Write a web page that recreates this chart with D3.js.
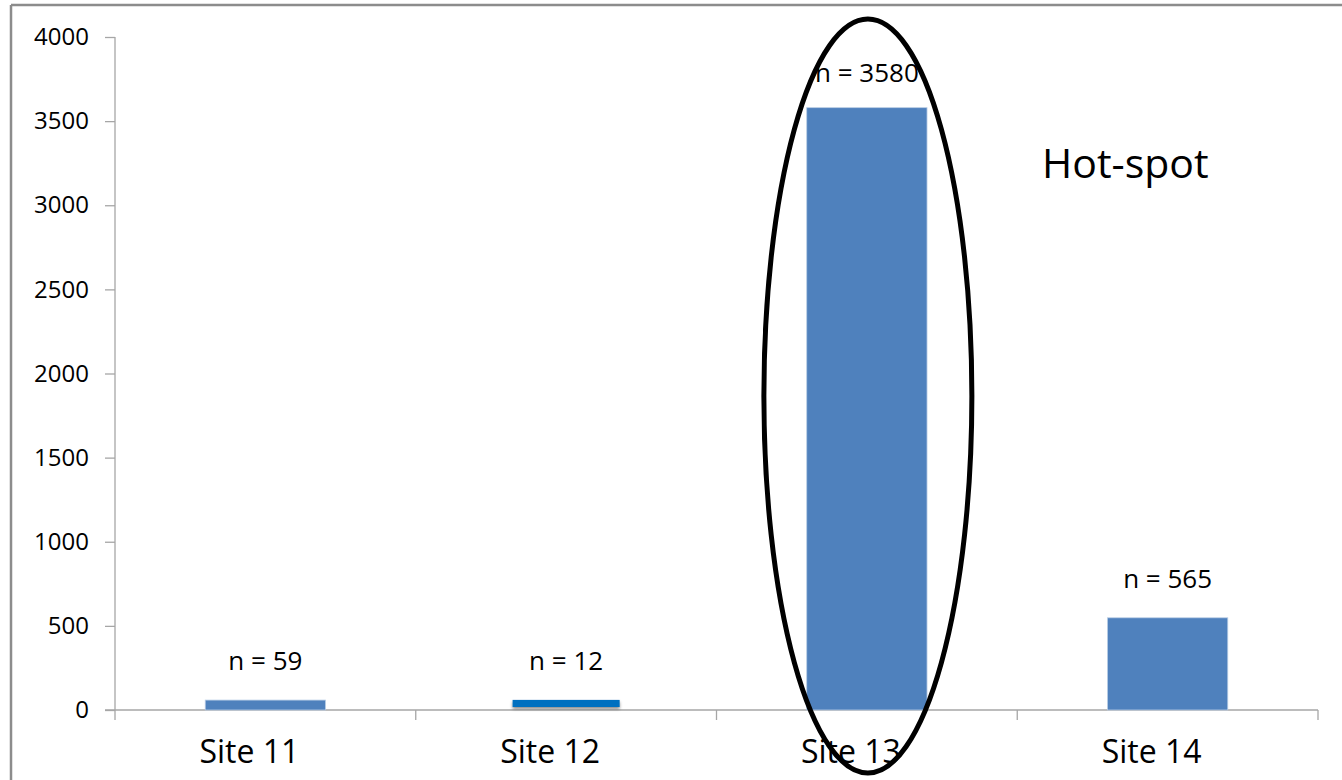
<!DOCTYPE html>
<html><head><meta charset="utf-8">
<script src="https://cdn.jsdelivr.net/npm/d3@7"></script>
<style>body{margin:0;background:#fff;} text{font-family:"Open Sans",sans-serif;fill:#000;}</style>
</head><body>
<svg id="chart" width="1342" height="780"></svg>
<script>
const categories = ["Site 11", "Site 12", "Site 13", "Site 14"];
const values = [59, 60, 3580, 548];
const nLabels = ["n = 59", "n = 12", "n = 3580", "n = 565"];
const yTicks = [0, 500, 1000, 1500, 2000, 2500, 3000, 3500, 4000];
const highlightCategory = "Site 13";
const annotationText = "Hot-spot";

const svg = d3.select("#chart");
const margin = {left: 115, right: 24, top: 37, bottom: 70};
const W = 1342, H = 780;
const x = d3.scaleBand().domain(categories).range([margin.left, W - margin.right]).paddingInner(0).paddingOuter(0);
const y = d3.scaleLinear().domain([0, 4000]).range([710, 37]);

// frame
svg.append("line").attr("x1", 11).attr("x2", W).attr("y1", 5).attr("y2", 5).attr("stroke", "#8c8c8c").attr("stroke-width", 2.5);
svg.append("line").attr("x1", 11).attr("x2", 11).attr("y1", 5).attr("y2", H).attr("stroke", "#8c8c8c").attr("stroke-width", 2.5);

// shadow filter
const defs = svg.append("defs");
const f = defs.append("filter").attr("id", "sh").attr("x", "-10%").attr("y", "-50%").attr("width", "120%").attr("height", "250%");
f.append("feDropShadow").attr("dx", 0).attr("dy", 2).attr("stdDeviation", 1.5).attr("flood-color", "#000").attr("flood-opacity", 0.45);

// y axis
const yAxis = svg.append("g").attr("transform", `translate(${margin.left},0)`)
  .call(d3.axisLeft(y).tickValues(yTicks).tickSize(10).tickPadding(16).tickFormat(d3.format("d")));
yAxis.select(".domain").attr("stroke", "#a6a6a6").attr("stroke-width", 1.3).attr("d", `M0,${y(4000)}V${y(0)}`);
yAxis.selectAll(".tick line").attr("stroke", "#a6a6a6").attr("stroke-width", 1.3);
yAxis.selectAll(".tick text").style("font-family", "'Open Sans',sans-serif").style("font-size", "24px").attr("fill", "#111");

// x axis
const xg = svg.append("g").attr("transform", `translate(0,${y(0)})`);
xg.append("line").attr("x1", margin.left - 10).attr("x2", W - margin.right).attr("y1", 0).attr("y2", 0).attr("stroke", "#a6a6a6").attr("stroke-width", 1.3);
const bounds = categories.map(c => x(c)).concat([x(categories[categories.length - 1]) + x.bandwidth()]);
xg.selectAll("line.xt").data(bounds).enter().append("line").attr("class", "xt")
  .attr("x1", d => d).attr("x2", d => d).attr("y1", 0).attr("y2", 10).attr("stroke", "#a6a6a6").attr("stroke-width", 1.3);
xg.selectAll("text.cat").data(categories).enter().append("text").attr("class", "cat")
  .attr("x", d => x(d) + x.bandwidth() / 2 - 16).attr("y", 53).attr("text-anchor", "middle")
  .style("font-size", "32px").text(d => d);

// bars
const bw = x.bandwidth() * 0.4;
const bwOf = i => i === 1 ? bw * 0.89 : bw;
svg.selectAll("rect.bar").data(categories).enter().append("rect").attr("class", "bar")
  .attr("x", (d, i) => x(d) + x.bandwidth() / 2 - bwOf(i) / 2)
  .attr("width", (d, i) => bwOf(i))
  .attr("y", (d, i) => y(values[i]))
  .attr("height", (d, i) => i === 1 ? y(0) - y(values[i]) - 3 : y(0) - y(values[i]))
  .attr("fill", (d, i) => i === 1 ? "#0070C0" : "#4F81BD")
  .attr("stroke", (d, i) => i === 1 ? "none" : "#b9cde5").attr("stroke-width", 0.8)
  .attr("filter", (d, i) => i === 1 ? "url(#sh)" : null);

// value labels
svg.selectAll("text.nl").data(categories).enter().append("text").attr("class", "nl")
  .attr("x", d => x(d) + x.bandwidth() / 2).attr("y", (d, i) => y(values[i]) - (i === 2 ? 26 : 30))
  .attr("text-anchor", "middle").style("font-size", "26px").text((d, i) => nLabels[i]);

// ellipse annotation
const cx = x(highlightCategory) + x.bandwidth() / 2;
svg.append("ellipse").attr("cx", cx + 1).attr("cy", 396).attr("rx", 104).attr("ry", 377)
  .attr("fill", "none").attr("stroke", "#000").attr("stroke-width", 5);

// Hot-spot text
svg.append("text").attr("x", 1042).attr("y", 178).style("font-size", "41px").text(annotationText);
</script>
</body></html>
